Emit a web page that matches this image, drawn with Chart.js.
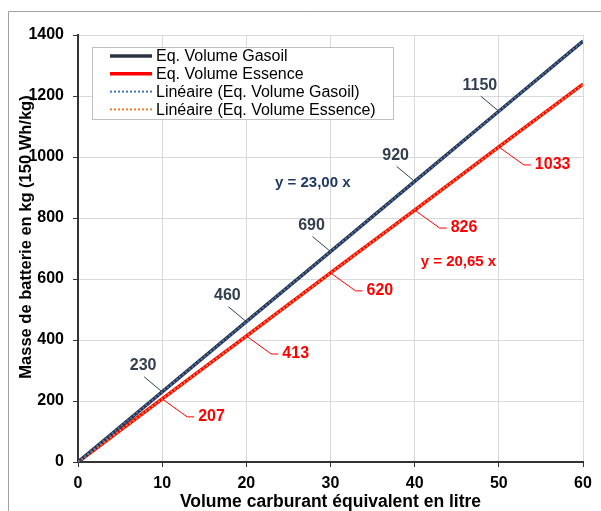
<!DOCTYPE html>
<html><head><meta charset="utf-8">
<script src="https://cdn.jsdelivr.net/npm/chart.js@4/dist/chart.umd.min.js"></script>
<style>html,body{margin:0;padding:0;background:#fff;overflow:hidden}canvas{display:block}</style>
</head><body>
<canvas id="c" width="601" height="511"></canvas>
<script>
// ---- data ----
const volumes = [0, 10, 20, 30, 40, 50, 60];
const gasoil = [0, 230, 460, 690, 920, 1150, 1380];
const essence = [0, 207, 413, 620, 826, 1033, 1239];
const seriesNames = ['Eq. Volume Gasoil', 'Eq. Volume Essence', 'Linéaire (Eq. Volume Gasoil)', 'Linéaire (Eq. Volume Essence)'];
const labeledPoints = [1, 2, 3, 4, 5];
const equationTexts = ['y = 23,00 x', 'y = 20,65 x'];
const xTitle = 'Volume carburant équivalent en litre';
const yTitle = 'Masse de batterie en kg (150 Wh/kg)';

const FONT = "'Liberation Sans', Arial, sans-serif";
const toPts = ys => volumes.map((x, i) => ({x: x, y: ys[i]}));

const decor = {
  id: 'decor',
  beforeDraw(chart) {
    const ctx = chart.ctx;
    ctx.save();
    ctx.fillStyle = '#fff';
    ctx.fillRect(0, 0, chart.width, chart.height);
    ctx.strokeStyle = '#a0a0a0';
    ctx.lineWidth = 1;
    ctx.beginPath();
    ctx.moveTo(8.5, 511); ctx.lineTo(8.5, 11.5); ctx.lineTo(601, 11.5);
    ctx.stroke();
    ctx.restore();
  },
  afterDraw(chart) {
    const ctx = chart.ctx;
    const xs = chart.scales.x, ys = chart.scales.y;
    ctx.save();
    // y axis title
    ctx.save();
    ctx.translate(26, 237);
    ctx.rotate(-Math.PI / 2);
    ctx.font = "bold 16.5px " + FONT;
    ctx.fillStyle = '#000'; ctx.textAlign = 'center'; ctx.textBaseline = 'middle';
    ctx.fillText(yTitle, 0, 0);
    ctx.restore();
    // data labels
    const m0 = chart.getDatasetMeta(0), m1 = chart.getDatasetMeta(1);
    ctx.font = "bold 16px " + FONT;
    ctx.textBaseline = 'middle';
    labeledPoints.forEach(i => {
      const p = m0.data[i];
      ctx.strokeStyle = '#333F4F'; ctx.lineWidth = 1;
      ctx.beginPath(); ctx.moveTo(p.x - 18, p.y - 15); ctx.lineTo(p.x, p.y); ctx.stroke();
      ctx.fillStyle = '#333F4F'; ctx.textAlign = 'center';
      ctx.fillText(String(gasoil[i]), p.x - 19, p.y - 26);
      const q = m1.data[i];
      ctx.strokeStyle = '#FF0000';
      ctx.beginPath(); ctx.moveTo(q.x, q.y); ctx.lineTo(q.x + 25, q.y + 18); ctx.lineTo(q.x + 32, q.y + 18); ctx.stroke();
      ctx.fillStyle = '#FF0000'; ctx.textAlign = 'left';
      ctx.fillText(String(essence[i]), q.x + 36, q.y + 18);
    });
    // equations
    ctx.font = "bold 15px " + FONT;
    ctx.textAlign = 'center';
    ctx.fillStyle = '#1F3864';
    ctx.fillText(equationTexts[0], xs.getPixelForValue(27.9), ys.getPixelForValue(915));
    ctx.fillStyle = '#FF0000';
    ctx.fillText(equationTexts[1], xs.getPixelForValue(45.2), ys.getPixelForValue(656));
    // legend
    const bx = 92.5, by = 47.5, bw = 301, bh = 72;
    ctx.fillStyle = '#fff'; ctx.fillRect(bx, by, bw, bh);
    ctx.strokeStyle = '#c0c0c0'; ctx.lineWidth = 1; ctx.strokeRect(bx, by, bw, bh);
    ctx.font = "16px " + FONT; ctx.textAlign = 'left'; ctx.textBaseline = 'middle';
    chart.data.datasets.forEach((ds, k) => {
      const cy = 56 + k * 17.8;
      ctx.save();
      ctx.strokeStyle = ds.borderColor; ctx.lineWidth = ds.borderWidth;
      ctx.setLineDash(ds.borderDash || []);
      ctx.beginPath(); ctx.moveTo(110, cy); ctx.lineTo(152, cy); ctx.stroke();
      ctx.restore();
      ctx.fillStyle = '#000';
      ctx.fillText(ds.label, 156, cy + 1);
    });
    ctx.restore();
  }
};

new Chart(document.getElementById('c'), {
  type: 'line',
  data: {
    datasets: [
      {label: seriesNames[0], data: toPts(gasoil), borderColor: '#2B3441', borderWidth: 3.5, pointRadius: 0, order: 2},
      {label: seriesNames[1], data: toPts(essence), borderColor: '#FF0000', borderWidth: 3.5, pointRadius: 0, order: 2},
      {label: seriesNames[2], data: toPts(gasoil), borderColor: '#4472C4', borderWidth: 2, borderDash: [2, 2], pointRadius: 0, order: 1},
      {label: seriesNames[3], data: toPts(essence), borderColor: '#ED7D31', borderWidth: 2, borderDash: [2, 2], pointRadius: 0, order: 1}
    ]
  },
  options: {
    responsive: false,
    animation: false,
    events: [],
    layout: {padding: {left: 0, top: 35, right: 18, bottom: 0}},
    plugins: {legend: {display: false}, tooltip: {enabled: false}},
    scales: {
      x: {
        type: 'linear', min: 0, max: 60,
        ticks: {stepSize: 10, color: '#000', font: {family: FONT, size: 16, weight: 'bold'}, padding: 7, callback: v => String(v)},
        grid: {color: '#d9d9d9', tickColor: '#333', tickLength: 5, lineWidth: 1},
        border: {color: '#333', width: 2},
        title: {display: true, text: xTitle, color: '#000', font: {family: FONT, size: 17.5, weight: 'bold', lineHeight: 1}, padding: {top: 0, bottom: 0}},
        afterFit: s => { s.height = 49; }
      },
      y: {
        min: 0, max: 1400,
        ticks: {stepSize: 200, color: '#000', font: {family: FONT, size: 16, weight: 'bold'}, padding: 9, callback: v => String(v)},
        grid: {color: '#d9d9d9', tickColor: '#333', tickLength: 5, lineWidth: 1},
        border: {color: '#333', width: 2},
        title: {display: false},
        afterFit: s => { s.width = 78; }
      }
    }
  },
  plugins: [decor]
});
</script>
</body></html>
